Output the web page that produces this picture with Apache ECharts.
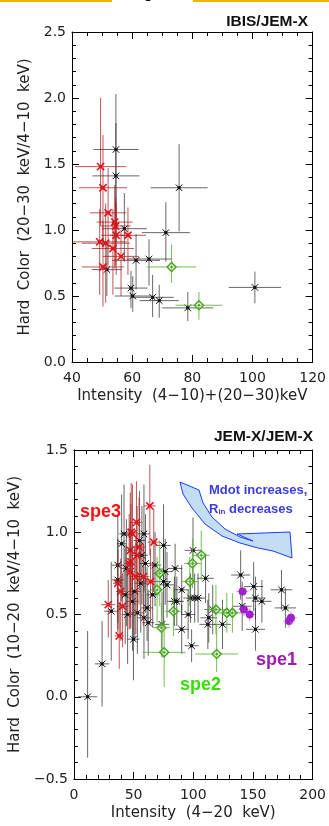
<!DOCTYPE html>
<html><head><meta charset="utf-8">
<script src="https://cdn.jsdelivr.net/npm/echarts@6/dist/echarts.min.js"></script>
<style>html,body{margin:0;padding:0;background:#fff}#c{width:329px;height:826px}</style>
</head><body><div id="c"></div>
<script>
// ---------- DATA: [x, y, xErr, yErrUp, yErrDown] ----------
// Top panel: IBIS/JEM-X
const ibisRed = [
  [49.5,1.48,8.5,0.52,0.45],[50.3,1.32,8,0.40,0.45],[52.0,1.13,6,0.34,0.40],
  [54.2,1.06,6,0.28,0.35],[54.5,1.03,5,0.22,0.30],[54.7,0.96,5,0.25,0.30],
  [58.6,0.96,6,0.21,0.30],[49.2,0.91,9,0.25,0.40],[51.2,0.90,8,0.30,0.45],
  [53.6,0.86,7,0.30,0.35],[56.3,0.80,6,0.20,0.30],[50.3,0.72,7,0.35,0.30]
];
const ibisBlack = [
  [54.6,1.61,7.5,0.42,0.55],[54.6,1.41,7.8,0.40,0.50],[75.6,1.32,9.5,0.33,0.33],
  [57.4,1.01,7.5,0.27,0.25],[71.2,0.98,8,0.23,0.22],[61.3,0.77,8,0.20,0.22],
  [65.6,0.78,7.5,0.15,0.20],[51.6,0.70,5,0.20,0.20],[59.6,0.56,5.5,0.13,0.15],
  [60.2,0.50,6,0.15,0.12],[66.8,0.49,7,0.17,0.15],[69.0,0.465,6.5,0.12,0.13],
  [78.5,0.41,8.5,0.12,0.10],[100.8,0.565,8.7,0.12,0.12]
];
const ibisGreen = [
  [73.1,0.72,8.2,0.17,0.12],[82.2,0.43,7.8,0.10,0.11]
];
// Bottom panel: JEM-X/JEM-X
const jemRed = [
  [63.6,1.16,5,0.25,0.30],[52.4,1.06,5,0.25,0.35],[48.0,1.00,4,0.30,0.40],
  [49.1,0.99,4,0.30,0.35],[66.9,0.94,5,0.20,0.30],[54.6,0.91,5,0.30,0.35],
  [47.2,0.89,4,0.35,0.40],[53.0,0.86,5,0.30,0.35],[46.3,0.81,4,0.30,0.40],
  [47.7,0.82,4,0.35,0.40],[47.2,0.76,4,0.30,0.35],[51.9,0.73,5,0.25,0.35],
  [58.2,0.73,5,0.20,0.30],[64.2,0.70,5,0.20,0.25],[36.8,0.69,4,0.20,0.30],
  [39.2,0.64,4,0.20,0.30],[28.8,0.56,6,0.15,0.20],[40.8,0.55,5,0.20,0.25],
  [38.0,0.37,4,0.20,0.20]
];
const jemBlack = [
  [11.5,0.00,8,0.40,0.37],[23.6,0.20,6,0.26,0.26],[31.3,0.52,6,0.30,0.30],
  [36.8,0.80,5,0.30,0.35],[36.8,0.71,5,0.25,0.30],[40.0,0.93,4,0.30,0.35],
  [43.0,0.62,4,0.30,0.30],[45.0,0.50,5,0.30,0.30],[49.1,0.58,5,0.30,0.30],
  [49.9,0.35,5,0.30,0.25],[53.2,0.51,5,0.25,0.25],[55.0,0.95,5,0.30,0.30],
  [56.0,0.69,5,0.25,0.30],[58.7,0.99,5,0.30,0.35],[58.7,0.48,5,0.25,0.25],
  [60.0,0.81,5,0.30,0.30],[61.3,0.54,5,0.25,0.20],[62.3,0.45,5,0.20,0.20],
  [66.0,0.62,5,0.20,0.20],[68.0,0.80,5,0.20,0.25],[73.8,0.44,6,0.20,0.20],
  [75.1,0.92,6,0.25,0.25],[75.1,0.70,6,0.20,0.25],[76.5,0.76,6,0.20,0.20],
  [78.0,0.68,6,0.20,0.20],[84.2,0.58,6,0.15,0.15],[84.8,0.78,6,0.15,0.20],
  [86.2,0.58,6,0.15,0.15],[90.3,0.65,6,0.15,0.15],[90.3,0.41,6,0.15,0.15],
  [95.7,0.50,6,0.15,0.15],[97.7,0.60,6,0.15,0.15],[98.6,0.31,6,0.10,0.10],
  [99.8,0.89,7,0.20,0.20],[101.2,0.60,6,0.15,0.15],[104.0,0.60,6,0.15,0.15],
  [110.3,0.72,7,0.15,0.15],[113.0,0.48,7,0.15,0.15],[112.2,0.44,7,0.15,0.15],
  [116.3,0.53,7,0.15,0.15],[124.5,0.44,7,0.15,0.15],[139.7,0.74,8,0.15,0.15],
  [141.0,0.55,8,0.15,0.15],[150.6,0.67,8,0.15,0.15],[152.1,0.60,8,0.13,0.13],
  [157.5,0.58,8,0.13,0.13],[152.1,0.41,8,0.13,0.13],[173.9,0.65,9,0.12,0.12],
  [177.2,0.54,9,0.12,0.12],[44.0,0.78,4,0.30,0.35],[51.0,0.64,5,0.28,0.30],
  [57.0,0.86,5,0.30,0.30],[42.0,0.99,4,0.30,0.35]
];
const jemGreen = [
  [106.7,0.86,7,0.15,0.15],[99.3,0.81,7,0.15,0.15],[71.9,0.75,6,0.20,0.20],
  [97.1,0.70,7,0.15,0.15],[69.7,0.65,6,0.20,0.20],[83.4,0.52,7,0.15,0.15],
  [119.0,0.53,8,0.15,0.15],[128.1,0.51,8,0.12,0.12],[132.8,0.51,8,0.12,0.12],
  [73.3,0.42,7,0.15,0.15],[75.6,0.27,18,0.20,0.21],[119.6,0.26,18,0.18,0.11]
];
const jemPurple = [
  [141.3,0.64,5,0.05,0.05],[142.4,0.53,4,0.04,0.04],[147.3,0.50,4,0.04,0.04],
  [180.2,0.46,5,0.04,0.04],[181.8,0.48,5,0.04,0.04]
];
// Axis ticks
const topXTicks = {min:40,max:120,interval:20};
const topYTicks = {min:0,max:2.5,interval:0.5};
const botXTicks = {min:0,max:200,interval:50};
const botYTicks = {min:-0.5,max:1.5,interval:0.5};

// ---------- RENDER ----------
const chart = echarts.init(document.getElementById('c'), null, {renderer:'canvas'});
const FONT = 'DejaVu Sans';

function makeRender(lineColor, marker, markColor) {
  return function (params, api) {
    const x = api.value(0), y = api.value(1), dx = api.value(2), up = api.value(3), dn = api.value(4);
    const c = api.coord([x, y]);
    const l = api.coord([x - dx, y]), r = api.coord([x + dx, y]);
    const t = api.coord([x, y + up]), b = api.coord([x, y - dn]);
    const ch = [
      {type:'line', shape:{x1:l[0],y1:c[1],x2:r[0],y2:c[1]}, style:{stroke:lineColor,lineWidth:1}},
      {type:'line', shape:{x1:c[0],y1:t[1],x2:c[0],y2:b[1]}, style:{stroke:lineColor,lineWidth:1}}
    ];
    if (marker === 'x' || marker === 'xr') {
      const s = marker === 'xr' ? 3.6 : 3.3;
      const lw = marker === 'xr' ? 1.6 : 1;
      ch.push({type:'line', shape:{x1:c[0]-s,y1:c[1]-s,x2:c[0]+s,y2:c[1]+s}, style:{stroke:markColor,lineWidth:lw}});
      ch.push({type:'line', shape:{x1:c[0]-s,y1:c[1]+s,x2:c[0]+s,y2:c[1]-s}, style:{stroke:markColor,lineWidth:lw}});
      ch.push({type:'rect', shape:{x:c[0]-1.5,y:c[1]-1.5,width:3,height:3}, style:{fill:markColor}});
    } else if (marker === 'd') {
      const s = 4.5;
      ch.push({type:'polygon', shape:{points:[[c[0],c[1]-s],[c[0]+s,c[1]],[c[0],c[1]+s],[c[0]-s,c[1]]]},
        style:{fill:'rgba(255,255,255,0.3)',stroke:markColor,lineWidth:1.5}});
      ch.push({type:'circle', shape:{cx:c[0],cy:c[1],r:1.2}, style:{fill:markColor}});
    } else if (marker === 'o') {
      ch.push({type:'circle', shape:{cx:c[0],cy:c[1],r:4}, style:{fill:markColor}});
    }
    return {type:'group', children:ch};
  };
}
function ser(data, xi, yi, lineColor, marker, markColor, z) {
  return {type:'custom', xAxisIndex:xi, yAxisIndex:yi, data:data, clip:true, z:z||2,
    encode:{x:0,y:1}, renderItem:makeRender(lineColor, marker, markColor)};
}

const tickCommon = {show:true, inside:true, length:7, lineStyle:{color:'#000',width:1}};
const minorCommon = {show:true, length:4, lineStyle:{color:'#000',width:1}};
const lblStyle = {fontFamily:FONT, fontSize:14, color:'#222'};
function fmt1(v){ const s = Math.abs(v).toFixed(1); return v < -1e-9 ? '\u2212' + s : s; }

function xAx(grid, t, name, split, pos, gap) {
  const main = pos === 'bottom';
  return {type:'value', gridIndex:grid, position:pos, min:t.min, max:t.max, interval:t.interval,
    axisLine:{show:true, onZero:false, lineStyle:{color:'#000',width:1}},
    axisTick:tickCommon, minorTick:Object.assign({splitNumber:split}, minorCommon),
    splitLine:{show:false}, minorSplitLine:{show:false},
    axisLabel:{show:main, margin:9, ...lblStyle},
    name: main ? name : '', nameLocation:'middle', nameGap:gap,
    nameTextStyle:{fontFamily:FONT, fontSize:15, color:'#222'}};
}
function yAx(grid, t, name, split, pos, gap) {
  const main = pos === 'left';
  return {type:'value', gridIndex:grid, position:pos, min:t.min, max:t.max, interval:t.interval,
    axisLine:{show:true, onZero:false, lineStyle:{color:'#000',width:1}},
    axisTick:tickCommon, minorTick:Object.assign({splitNumber:split}, minorCommon),
    splitLine:{show:false}, minorSplitLine:{show:false},
    axisLabel:{show:main, margin:6, formatter:fmt1, ...lblStyle},
    name: main ? name : '', nameLocation:'middle', nameGap:gap, nameRotate:90,
    nameTextStyle:{fontFamily:FONT, fontSize:15, color:'#222'}};
}

const redLine = 'rgba(170,30,30,0.75)';
const blackLine = 'rgba(40,40,40,0.7)';
const greenLine = 'rgba(90,180,50,0.85)';
const purpleLine = 'rgba(190,120,210,0.8)';

const arrowPts = [[180,482],[199,490],[203,503],[212,517],[225,529],[240,537],[253,541],
  [237,534],[290,532],[292,558],[273,551],[258,548],[240,543],[222,536],[205,524],[192,508],[183,494]];

const option = {
  animation:false,
  backgroundColor:'#fff',
  grid:[
    {left:72, top:32, width:243, height:330, containLabel:false},
    {left:72, top:450, width:243, height:329, containLabel:false}
  ],
  xAxis:[
    xAx(0, topXTicks, 'Intensity  (4\u221210)+(20\u221230)keV', 4, 'bottom', 27),
    xAx(0, topXTicks, '', 4, 'top', 0),
    xAx(1, botXTicks, 'Intensity  (4\u221220  keV)', 5, 'bottom', 27),
    xAx(1, botXTicks, '', 5, 'top', 0)
  ],
  yAxis:[
    yAx(0, topYTicks, 'Hard  Color  (20\u221230  keV/4\u221210  keV)', 5, 'left', 38),
    yAx(0, topYTicks, '', 5, 'right', 0),
    yAx(1, botYTicks, 'Hard  Color  (10\u221220  keV/4\u221210  keV)', 5, 'left', 50),
    yAx(1, botYTicks, '', 5, 'right', 0)
  ],
  series:[
    ser(ibisBlack, 0, 0, blackLine, 'x', '#111', 2),
    ser(ibisGreen, 0, 0, greenLine, 'd', '#4aa820', 3),
    ser(ibisRed, 0, 0, redLine, 'xr', '#e3141c', 4),
    ser(jemBlack, 2, 2, blackLine, 'x', '#111', 2),
    ser(jemRed, 2, 2, redLine, 'xr', '#e3141c', 4),
    ser(jemGreen, 2, 2, greenLine, 'd', '#4aa820', 3),
    ser(jemPurple, 2, 2, purpleLine, 'o', '#a020cc', 5)
  ],
  graphic:[
    {type:'rect', shape:{x:0,y:0,width:112,height:2}, style:{fill:'#f5b400'}},
    {type:'rect', shape:{x:193,y:0,width:136,height:2}, style:{fill:'#f5b400'}},
    {type:'text', x:144, y:-13, style:{text:'g', fontFamily:'Liberation Sans', fontWeight:'bold', fontSize:14, fill:'#000'}},
    {type:'text', x:308, y:22, style:{text:'IBIS/JEM-X', fontFamily:'Liberation Sans', fontWeight:'bold', fontSize:15.5, fill:'#111', align:'right', verticalAlign:'middle'}},
    {type:'text', x:313, y:437, style:{text:'JEM-X/JEM-X', fontFamily:'Liberation Sans', fontWeight:'bold', fontSize:15.5, fill:'#111', align:'right', verticalAlign:'middle'}},
    {type:'text', x:80, y:512, style:{text:'spe3', fontFamily:'Liberation Sans', fontWeight:'bold', fontSize:18, fill:'#ff1010', verticalAlign:'middle'}},
    {type:'text', x:180, y:685, style:{text:'spe2', fontFamily:'Liberation Sans', fontWeight:'bold', fontSize:18, fill:'#33e000', verticalAlign:'middle'}},
    {type:'text', x:256, y:660, style:{text:'spe1', fontFamily:'Liberation Sans', fontWeight:'bold', fontSize:18, fill:'#a01cb0', verticalAlign:'middle'}},
    {type:'polygon', z:10, shape:{points:arrowPts}, style:{fill:'rgba(175,210,238,0.75)', stroke:'#1a3cff', lineWidth:1}},
    {type:'text', z:11, x:209, y:490, style:{text:'Mdot increases,', fontFamily:'Liberation Sans', fontWeight:'bold', fontSize:13, fill:'#3c3cdc', verticalAlign:'middle'}},
    {type:'text', z:11, x:209, y:509, style:{
      text:'{r|R}{s|in}{r| decreases}', fontFamily:'Liberation Sans', fontWeight:'bold', fill:'#3c3cdc', verticalAlign:'middle',
      rich:{r:{fontFamily:'Liberation Sans', fontWeight:'bold', fontSize:13, fill:'#3c3cdc', verticalAlign:'bottom'},
            s:{fontFamily:'Liberation Sans', fontWeight:'bold', fontSize:8, fill:'#3c3cdc', padding:[6,0,0,0], verticalAlign:'bottom'}}}}
  ]
};
chart.setOption(option);
</script>
</body></html>
